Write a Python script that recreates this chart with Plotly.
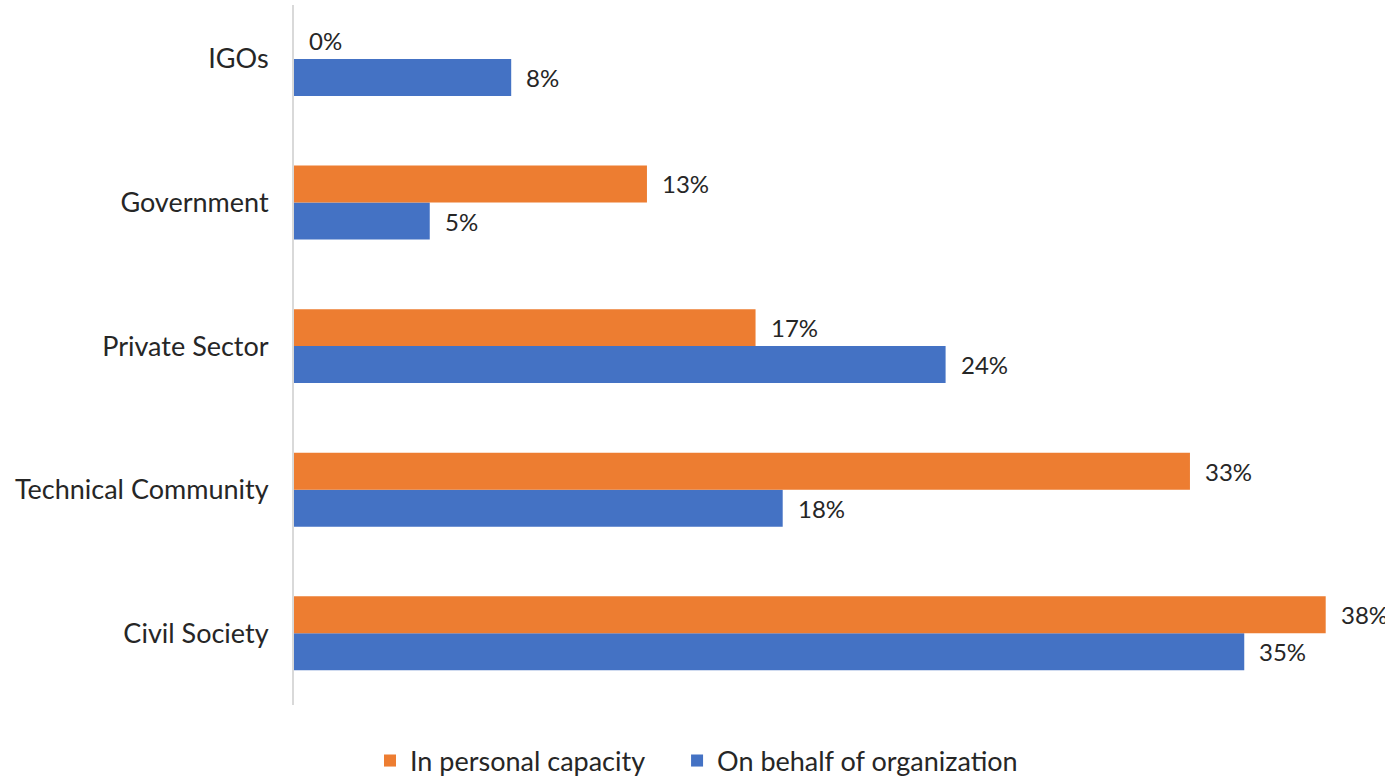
import plotly.graph_objects as go

categories = ["Civil Society", "Technical Community", "Private Sector", "Government", "IGOs"]
personal = [38, 33, 17, 13, 0]
organization = [35, 18, 24, 5, 8]

ORANGE = "#ED7D31"
BLUE = "#4472C4"
FONT = "Lato"
TXT = "#262626"

fig = go.Figure()
fig.add_trace(go.Bar(
    y=categories, x=organization, orientation="h", name="On behalf of organization",
    marker=dict(color=BLUE, line=dict(width=0)), legendrank=2,
))
fig.add_trace(go.Bar(
    y=categories, x=personal, orientation="h",
    name="In personal capacity" + "\u00a0" * 4,
    marker=dict(color=ORANGE, line=dict(width=0)), legendrank=1,
))

# value labels
for vals, off in ((organization, -0.13), (personal, 0.13)):
    for c, v in zip(categories, vals):
        fig.add_annotation(
            x=v, y=categories.index(c) + off, xref="x", yref="y",
            text=f"{v}%", showarrow=False, xanchor="left", xshift=13,
            font=dict(family=FONT, size=24, color=TXT),
        )

fig.update_layout(
    width=1385, height=776,
    margin=dict(l=294, r=5, t=5, b=71, autoexpand=False),
    paper_bgcolor="white", plot_bgcolor="white",
    barmode="group", bargap=0.485, bargroupgap=0,
    font=dict(family=FONT, size=24, color=TXT),
    showlegend=True,
    legend=dict(
        orientation="h", x=(370 - 294) / 1086, xanchor="left",
        y=-0.045, yanchor="top", font=dict(family=FONT, size=27, color=TXT),
        itemwidth=30,
    ),
    xaxis=dict(range=[0, 40], showgrid=False, zeroline=False, showticklabels=False,
               showline=False, ticks="", automargin=False),
    yaxis=dict(type="category", categoryorder="array", categoryarray=categories,
               range=[-0.5, 4.376], showline=True, linecolor="#d9d9d9", linewidth=2,
               showgrid=False, ticks="", ticklabelstandoff=18, automargin=False,
               tickfont=dict(family=FONT, size=27, color=TXT)),
)

fig.write_html("out.html", config={"displayModeBar": False},
               post_script="document.body.style.margin='0';")
